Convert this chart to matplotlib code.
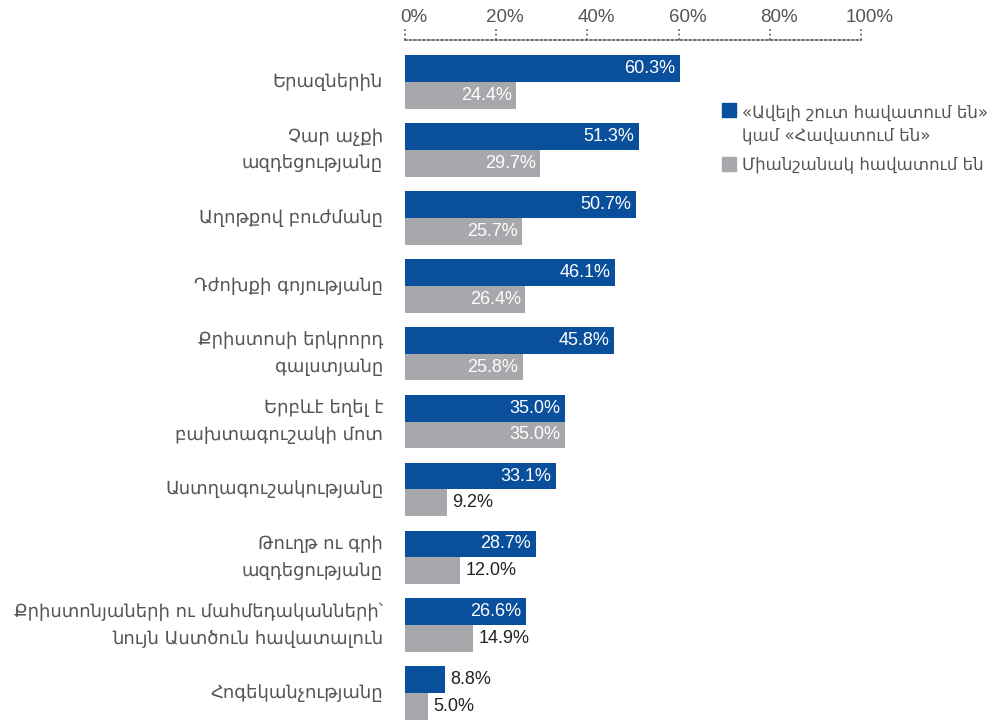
import matplotlib
matplotlib.use("Agg")
import matplotlib.pyplot as plt
from matplotlib.patches import Rectangle
from matplotlib.transforms import ScaledTranslation
import numpy as np

plt.rcParams['font.family'] = ['Liberation Sans', 'DejaVu Sans']

categories = [
    "Երազներին",
    "Չար աչքի\nազդեցությանը",
    "Աղոթքով բուժմանը",
    "Դժոխքի գոյությանը",
    "Քրիստոսի երկրորդ\nգալստյանը",
    "Երբևէ եղել է\nբախտագուշակի մոտ",
    "Աստղագուշակությանը",
    "Թուղթ ու գրի\nազդեցությանը",
    "Քրիստոնյաների ու մահմեդականների՝\nնույն Աստծուն հավատալուն",
    "Հոգեկանչությանը",
]
rather_believe = [60.3, 51.3, 50.7, 46.1, 45.8, 35.0, 33.1, 28.7, 26.6, 8.8]
definitely_believe = [24.4, 29.7, 25.7, 26.4, 25.8, 35.0, 9.2, 12.0, 14.9, 5.0]
x_ticks = [0, 20, 40, 60, 80, 100]
legend_labels = ["«Ավելի շուտ հավատում են»\nկամ «Հավատում են»", "Միանշանակ հավատում են"]

BLUE = "#0a4f9b"
GRAY = "#a7a8ab"
TEXT = "#555555"

fig = plt.figure(figsize=(9.97, 7.21), dpi=100)
ax = fig.add_axes([405 / 997, 0, 456 / 997, 681 / 721])

y = np.arange(len(categories))
h = 0.395
ax.barh(y - h / 2, rather_believe, height=h, color=BLUE)
ax.barh(y + h / 2, definitely_believe, height=h, color=GRAY)

ax.set_xlim(0, 100)
ax.set_ylim(9.41, -0.62)

for i, (b, g) in enumerate(zip(rather_believe, definitely_believe)):
    for val, yy in ((b, i - h / 2), (g, i + h / 2)):
        if val >= 20:
            ax.text(val - 1.0, yy, f"{val:.1f}%", ha="right", va="center",
                    color="white", fontsize=13)
        else:
            ax.text(val + 1.2, yy, f"{val:.1f}%", ha="left", va="center",
                    color="#222222", fontsize=13)
    ax.text(-4.8, i, categories[i], ha="right", va="center", color=TEXT,
            fontsize=13, linespacing=1.6, family=['DejaVu Sans'])

# dotted top axis with dotted tick marks
for s in ("left", "right", "bottom"):
    ax.spines[s].set_visible(False)
ax.spines["top"].set_linestyle((0, (1, 1.5)))
ax.spines["top"].set_color("#666666")
ax.spines["top"].set_linewidth(1.3)
ax.set_yticks([])
ax.xaxis.tick_top()
ax.set_xticks(x_ticks)
ax.set_xticklabels([f"{t}%" for t in x_ticks])
ax.tick_params(axis="x", length=0, pad=10, labelsize=13.5, labelcolor=TEXT)
shift = ScaledTranslation(9 / 100, 0, fig.dpi_scale_trans)
for lbl in ax.get_xticklabels():
    lbl.set_transform(lbl.get_transform() + shift)
for t in x_ticks:
    ax.plot([t, t], [1.0, 1.0 + 12 / 681], transform=ax.get_xaxis_transform(),
            color="#666666", lw=1.3, ls=(0, (1, 1.5)), clip_on=False)

# legend drawn by hand on the right
W, H = 997, 721
for (top, color, label, ty) in ((103, BLUE, legend_labels[0], 123.5),
                                 (157, GRAY, legend_labels[1], 164)):
    fig.add_artist(Rectangle((722 / W, 1 - (top + 14) / H), 14 / W, 14 / H,
                             transform=fig.transFigure, color=color))
    fig.text(742 / W, 1 - ty / H, label, ha="left", va="center",
             color=TEXT, fontsize=12, linespacing=1.35, family=['DejaVu Sans'])

fig.savefig("out.png", dpi=100)
